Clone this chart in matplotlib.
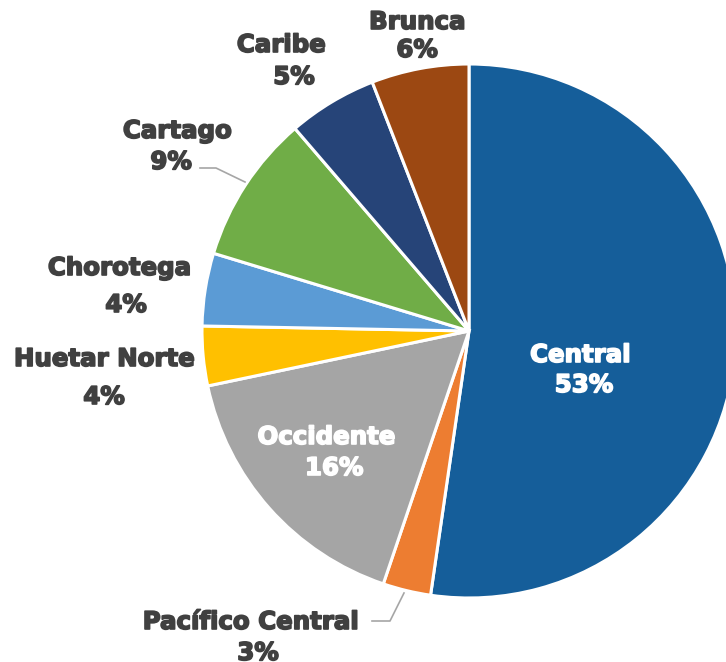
import matplotlib.pyplot as plt
import matplotlib.patheffects as pe

regions = ['Central', 'Pacífico Central', 'Occidente', 'Huetar Norte',
           'Chorotega', 'Cartago', 'Caribe', 'Brunca']
shares = [52.3, 2.9, 16.5, 3.6, 4.4, 9.0, 5.4, 5.9]
pct_labels = ['53%', '3%', '16%', '4%', '4%', '9%', '5%', '6%']
colors = ['#155E9A', '#ED7D31', '#A5A5A5', '#FFC000',
          '#5B9BD5', '#70AD47', '#264478', '#9C4812']

W, H = 726, 662
fig = plt.figure(figsize=(W / 100, H / 100), dpi=100)
ax = fig.add_axes([0, 0, 1, 1])

# pie drawn in pixel space (y axis flipped, so mirror the direction)
ax.pie(shares, colors=colors, startangle=-90, counterclock=True,
       center=(469, 331), radius=267, frame=True,
       wedgeprops=dict(edgecolor='white', linewidth=2.2))
ax.set_xlim(0, W)
ax.set_ylim(H, 0)
ax.axis('off')

dark = '#404040'

# name / percent positions in pixels
name_pos = [(580, 355), (250, 622), (326, 437), (104, 359),
            (119, 268), (177, 131), (281, 45), (417, 22)]
pct_pos = [(584, 385), (258, 653), (334, 468), (104, 397),
           (126, 305), (171, 162), (294, 77), (417, 50)]
inside = {'Central', 'Occidente'}

for name, pct, npos, ppos in zip(regions, pct_labels, name_pos, pct_pos):
    c = 'white' if name in inside else dark
    for s, p in ((name, npos), (pct, ppos)):
        ax.text(*p, s, color=c, family='DejaVu Sans', weight='bold',
                fontsize=17.6, ha='center', va='center',
                path_effects=[pe.withStroke(linewidth=1.2, foreground=c)])

# leader lines
ax.plot([200, 216, 245], [168, 168, 182], color='#A6A6A6', lw=1.2)
ax.plot([372, 390, 404], [621, 621, 593], color='#A6A6A6', lw=1.2)

fig.savefig('out.png', dpi=100)
